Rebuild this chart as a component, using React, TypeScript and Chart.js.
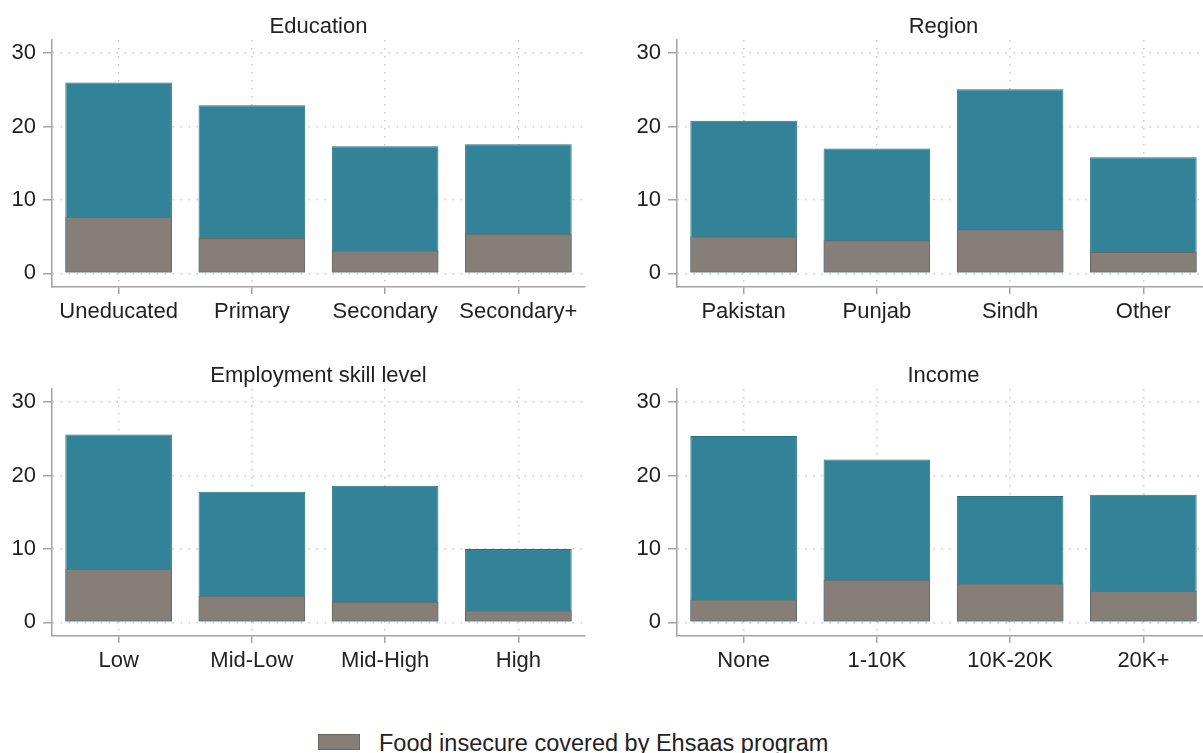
import React, { useEffect, useRef } from "react";
import { Chart, registerables } from "chart.js";

Chart.register(...registerables);

// ---- Data ----
const educationLabels = ["Uneducated", "Primary", "Secondary", "Secondary+"];
const educationTotal = [26.0, 22.9, 17.3, 17.6];
const educationCovered = [7.7, 4.8, 3.1, 5.4];

const regionLabels = ["Pakistan", "Punjab", "Sindh", "Other"];
const regionTotal = [20.8, 17.0, 25.1, 15.8];
const regionCovered = [5.0, 4.5, 6.0, 2.9];

const employmentLabels = ["Low", "Mid-Low", "Mid-High", "High"];
const employmentTotal = [25.6, 17.8, 18.6, 10.0];
const employmentCovered = [7.3, 3.6, 2.8, 1.6];

const incomeLabels = ["None", "1-10K", "10K-20K", "20K+"];
const incomeTotal = [25.4, 22.2, 17.2, 17.4];
const incomeCovered = [3.1, 5.8, 5.3, 4.3];

const yTickValues = [0, 10, 20, 30];

const totalLabel = "Food insecure";
const coveredLabel = "Food insecure covered by Ehsaas program";

// ---- Styles ----
const FONT = "'Liberation Sans', Arial, sans-serif";
const TEAL = "#328397";
const TEAL_BORDER = "#27707f";
const GRAY = "#867e78";
const GRAY_BORDER = "#6e6761";
const TEXT = "#222222";
const AXIS = "#a3a3a3";
const GRID = "#c8c8c8";

const CW = 600;
const CH = 340;

type PanelProps = {
  title: string;
  labels: string[];
  total: number[];
  covered: number[];
  left: number;
  top: number;
};

function Panel({ title, labels, total, covered, left, top }: PanelProps) {
  const ref = useRef<HTMLCanvasElement | null>(null);

  useEffect(() => {
    if (!ref.current) return;
    const chart = new Chart(ref.current, {
      type: "bar",
      data: {
        labels,
        datasets: [
          {
            label: coveredLabel,
            data: covered,
            backgroundColor: GRAY,
            borderColor: GRAY_BORDER,
            borderWidth: 1,
            borderSkipped: false,
            grouped: false,
            order: 0,
            barPercentage: 0.8,
            categoryPercentage: 1.0,
          },
          {
            label: totalLabel,
            data: total,
            backgroundColor: TEAL,
            borderColor: TEAL_BORDER,
            borderWidth: 1,
            borderSkipped: false,
            grouped: false,
            order: 1,
            barPercentage: 0.8,
            categoryPercentage: 1.0,
          },
        ],
      },
      options: {
        responsive: false,
        animation: false,
        devicePixelRatio: 1,
        layout: { padding: { left: 0, right: 15, top: 0, bottom: 0 } },
        plugins: {
          legend: { display: false },
          tooltip: { enabled: false },
          title: {
            display: true,
            fullSize: false,
            text: title,
            color: TEXT,
            font: { family: FONT, size: 22, weight: "normal" },
            padding: { top: 13.5, bottom: 0.1 },
          },
        },
        scales: {
          x: {
            type: "category",
            offset: true,
            grid: {
              display: true,
              offset: false,
              color: GRID,
              lineWidth: 1.5,
              drawOnChartArea: true,
              drawTicks: true,
              tickLength: 7,
              tickColor: AXIS,
              tickWidth: 1.5,
            },
            border: { display: true, color: AXIS, width: 1.5, dash: [1.5, 6.5] },
            ticks: {
              color: TEXT,
              font: { family: FONT, size: 22 },
              padding: 4.5,
              maxRotation: 0,
              autoSkip: false,
            },
            afterFit: (scale: any) => {
              scale.height = CH - 287;
            },
          },
          y: {
            type: "linear",
            min: -1.87,
            max: 31.8,
            grid: {
              display: true,
              color: GRID,
              lineWidth: 1.5,
              drawTicks: true,
              tickLength: 9,
              tickColor: AXIS,
              tickWidth: 1.5,
            },
            border: { display: true, color: AXIS, width: 1.5, dash: [1.5, 6.5] },
            ticks: {
              color: TEXT,
              font: { family: FONT, size: 22 },
              padding: 7,
            },
            afterBuildTicks: (scale: any) => {
              scale.ticks = yTickValues.map((v) => ({ value: v }));
            },
            afterFit: (scale: any) => {
              scale.width = 52;
            },
          },
        },
      },
    });
    return () => chart.destroy();
  }, []);

  return (
    <div style={{ position: "absolute", left, top, width: CW, height: CH }}>
      <canvas ref={ref} width={CW} height={CH} style={{ display: "block" }} />
    </div>
  );
}

export default function App() {
  return (
    <div
      style={{
        position: "fixed",
        left: 0,
        top: 0,
        width: 1203,
        height: 753,
        overflow: "hidden",
        background: "#ffffff",
      }}
    >
      <Panel title="Education" labels={educationLabels} total={educationTotal} covered={educationCovered} left={0} top={0} />
      <Panel title="Region" labels={regionLabels} total={regionTotal} covered={regionCovered} left={625} top={0} />
      <Panel title="Employment skill level" labels={employmentLabels} total={employmentTotal} covered={employmentCovered} left={0} top={349} />
      <Panel title="Income" labels={incomeLabels} total={incomeTotal} covered={incomeCovered} left={625} top={349} />
      <div
        style={{
          position: "absolute",
          left: 318,
          top: 734,
          width: 42,
          height: 16,
          background: GRAY,
          boxSizing: "border-box",
          border: `1px solid ${GRAY_BORDER}`,
        }}
      />
      <div
        style={{
          position: "absolute",
          left: 379,
          top: 729,
          fontFamily: FONT,
          fontSize: 23.5,
          lineHeight: "28px",
          color: TEXT,
          whiteSpace: "nowrap",
        }}
      >
        {coveredLabel}
      </div>
    </div>
  );
}
